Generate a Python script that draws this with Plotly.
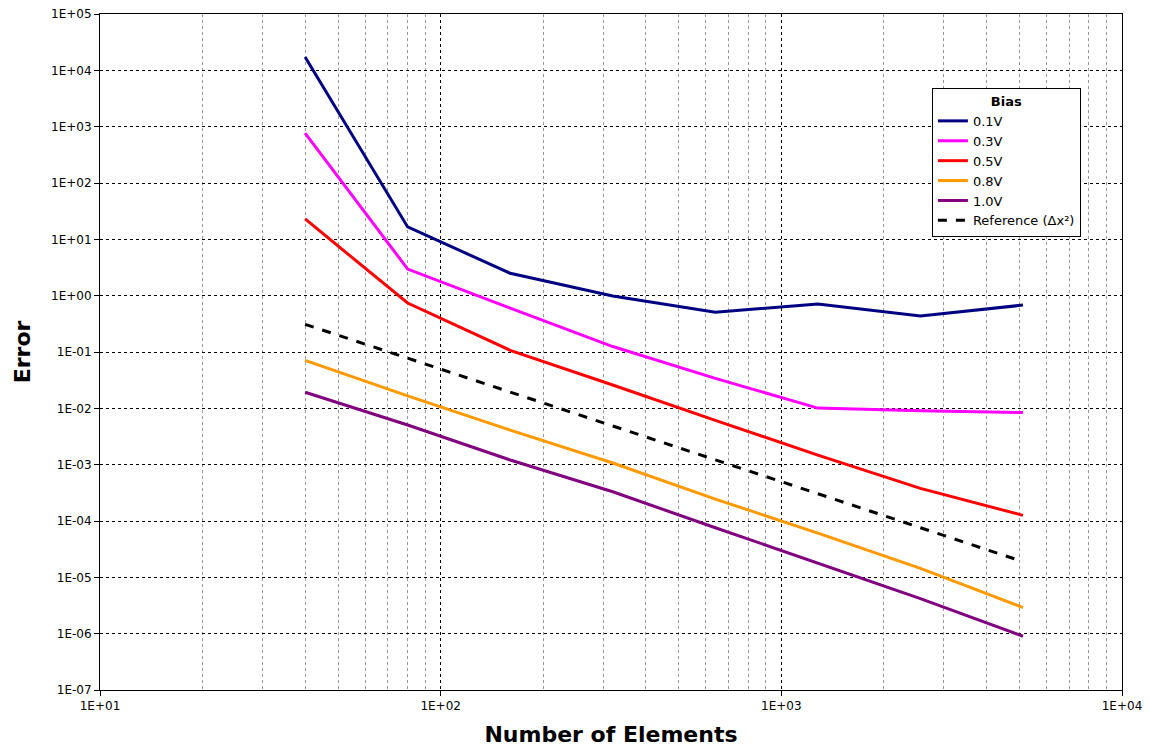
import plotly.graph_objects as go

# Mesh sizes (number of elements) and error per bias voltage
elements = [40, 80, 160, 320, 640, 1280, 2560, 5120]

err_0_1V = [1.73e4, 16.6, 2.5, 0.99, 0.51, 0.71, 0.435, 0.68]
err_0_3V = [771, 2.97, 0.60, 0.125, 0.034, 0.0101, 0.0091, 0.0084]
err_0_5V = [23, 0.74, 0.107, 0.026, 0.0061, 0.00148, 3.8e-4, 1.26e-4]
err_0_8V = [0.071, 0.0166, 0.0041, 0.00107, 2.45e-4, 6.1e-5, 1.44e-5, 2.9e-6]
err_1_0V = [0.0193, 0.00506, 0.00121, 3.3e-4, 7.6e-5, 1.8e-5, 4.2e-6, 9.0e-7]
err_ref = [0.31, 0.078, 0.0195, 0.0049, 0.00122, 3.05e-4, 7.6e-5, 1.9e-5]

series_names = ["0.1V", "0.3V", "0.5V", "0.8V", "1.0V"]
series_values = [err_0_1V, err_0_3V, err_0_5V, err_0_8V, err_1_0V]
series_colors = ["#000080", "#FF00FF", "#FF0000", "#FF9900", "#800080"]

x_tickvals = [10, 100, 1000, 10000]
x_ticktext = ["1E+01", "1E+02", "1E+03", "1E+04"]
x_minorvals = [m * d for d in (10, 100, 1000) for m in range(2, 10)]
y_tickvals = [1e-7, 1e-6, 1e-5, 1e-4, 1e-3, 1e-2, 1e-1, 1, 10, 100, 1e3, 1e4, 1e5]
y_ticktext = ["1E-07", "1E-06", "1E-05", "1E-04", "1E-03", "1E-02", "1E-01",
              "1E+00", "1E+01", "1E+02", "1E+03", "1E+04", "1E+05"]

FONT = "DejaVu Sans, Verdana, sans-serif"

fig = go.Figure()
for name, vals, color in zip(series_names, series_values, series_colors):
    fig.add_trace(go.Scatter(x=elements, y=vals, mode="lines", name=name,
                             line=dict(color=color, width=3)))
fig.add_trace(go.Scatter(x=elements, y=err_ref, mode="lines",
                         name="Reference (\u0394x\u00b2)",
                         line=dict(color="black", width=3, dash="dash")))

fig.update_layout(
    width=1150, height=748,
    margin=dict(l=100, r=28, t=14, b=58),
    paper_bgcolor="white", plot_bgcolor="white",
    font=dict(family=FONT, size=12, color="black"),
    showlegend=True,
    legend=dict(
        x=0.814, y=0.8905, xanchor="left", yanchor="top",
        bgcolor="white", bordercolor="black", borderwidth=1,
        font=dict(family=FONT, size=13, color="black"),
        title=dict(text="<b>Bias</b>", side="top center",
                   font=dict(family=FONT, size=13, color="black")),
        tracegroupgap=0, itemwidth=30,
    ),
)

fig.update_xaxes(
    type="log", range=[1, 4], automargin=False,
    tickvals=x_tickvals, ticktext=x_ticktext,
    ticks="outside", ticklen=5, tickcolor="black",
    showline=True, linecolor="black", linewidth=1, mirror=True,
    showgrid=True, gridcolor="black", gridwidth=1, griddash="dot",
    minor=dict(tickvals=x_minorvals, showgrid=True, gridcolor="#999999",
               gridwidth=1, griddash="dot", ticks=""),
    zeroline=False,
    title=dict(text="<b>Number of Elements</b>",
               font=dict(family=FONT, size=22, color="black"), standoff=14),
    tickfont=dict(family=FONT, size=12, color="black"),
)
fig.update_yaxes(
    type="log", range=[-7, 5], automargin=False,
    tickvals=y_tickvals, ticktext=y_ticktext,
    ticks="outside", ticklen=5, tickcolor="black",
    showline=True, linecolor="black", linewidth=1, mirror=True,
    showgrid=True, gridcolor="black", gridwidth=1, griddash="dot",
    zeroline=False,
    title=dict(text="<b>Error</b>",
               font=dict(family=FONT, size=22, color="black"), standoff=14),
    tickfont=dict(family=FONT, size=12, color="black"),
)

fig.write_html("out.html")
